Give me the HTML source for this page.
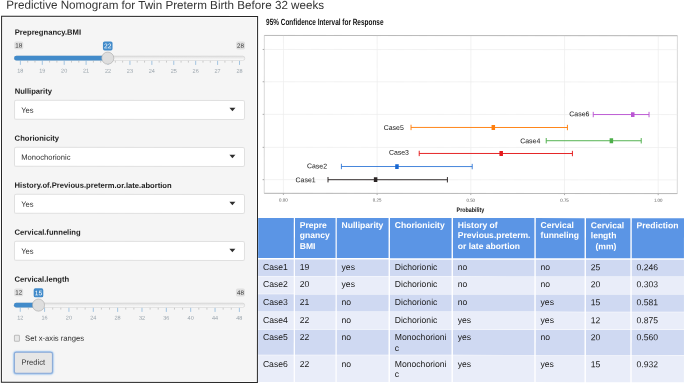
<!DOCTYPE html>
<html><head><meta charset="utf-8"><title>Predictive Nomogram for Twin Preterm Birth Before 32 weeks</title>
<style>
html,body{margin:0;padding:0;background:#fff;}
body{width:685px;height:384px;overflow:hidden;position:relative;font-family:"Liberation Sans",Arial,sans-serif;color:#333;}
#title{position:absolute;left:6.2px;top:-1.1px;font-size:11.66px;line-height:12px;white-space:nowrap;color:#333;}
#panel{position:absolute;left:1px;top:16px;width:255px;height:365px;border:1px solid #262626;background:#f5f5f5;box-shadow:inset 0 0 0 1px #fbfbfb;}
#pin{position:absolute;left:-2px;top:-17px;width:0;height:0;}
.lb{position:absolute;left:14.6px;font-size:7.64px;line-height:9px;font-weight:bold;white-space:nowrap;color:#222;}
.mm{position:absolute;width:9.4px;height:8px;border-radius:1.8px;background:#e1e1e1;font-size:6.6px;line-height:8.6px;text-align:center;color:#333;}
.val{position:absolute;width:9.9px;height:9.5px;border-radius:1.8px;background:#428bca;font-size:6.7px;line-height:9.6px;text-align:center;color:#fff;}
.trk{position:absolute;height:4.8px;border:1px solid #dcdcdc;border-radius:3px;background:linear-gradient(#e6e6e6,#fcfcfc);box-sizing:border-box;}
.bar{position:absolute;height:4.9px;border-radius:3px 0 0 3px;background:#428bca;}
.hnd{position:absolute;z-index:3;box-sizing:border-box;width:12.4px;height:12.4px;border:1px solid #b4b4b4;border-radius:50%;background:#dedede;box-shadow:0.5px 0.5px 1.5px rgba(0,0,0,0.15);}
.tk{position:absolute;width:1px;height:4.2px;background:#a9c9ea;}
.tm{position:absolute;width:0.7px;height:2.4px;background:#b4b4b4;}
.tl{position:absolute;width:20px;text-align:center;font-size:5.6px;line-height:6px;color:#9aa2a9;}
.sel{position:absolute;box-sizing:border-box;left:14px;width:231px;height:20px;border:1px solid #e0e0e0;border-radius:2.2px;background:#fff;font-size:7.58px;line-height:18px;color:#2a2a2a;}
.sel span{position:absolute;left:6.2px;top:0.8px;white-space:nowrap;}
.arr{position:absolute;left:229px;}
#cb{position:absolute;box-sizing:border-box;left:14px;top:335px;width:5.9px;height:6.6px;border:1px solid #bcbcbc;border-radius:1.4px;background:#e8e8e8;}
#cbl{position:absolute;left:25.2px;top:333.6px;font-size:7.65px;line-height:9px;white-space:nowrap;color:#2a2a2a;}
#btn{position:absolute;left:13.8px;top:352.3px;width:37.2px;height:20px;border:0.6px solid #8aa9d6;border-radius:2.4px;background:#e6e6e6;box-shadow:0 0 1.5px 0.6px rgba(102,165,233,0.75);font-size:7.58px;line-height:20px;text-align:center;color:#333;}
.th{position:absolute;top:218px;height:40.2px;color:#fff;font-weight:bold;font-size:8.55px;line-height:10.3px;padding:2.0px 0 0 4.8px;box-sizing:border-box;white-space:nowrap;overflow:hidden;}
.td{position:absolute;font-size:8.65px;line-height:10.6px;padding:2.5px 0 0 4.8px;box-sizing:border-box;white-space:nowrap;overflow:hidden;color:#1a1a1a;}
.ra{background:#cfd9f2;}
.rb{background:#e9edf9;}
#root{position:absolute;left:0;top:0;width:685px;height:384px;transform:rotate(0.03deg);transform-origin:342px 192px;}
</style></head><body><div id="root">
<div id="title">Predictive Nomogram for Twin Preterm Birth Before 32 weeks</div>
<div id="panel"><div id="pin">
<div class="lb" style="top:28.00px">Prepregnancy.BMI</div>
<svg width="258" height="40" viewBox="0 38 258 40" style="position:absolute;left:0;top:38px;font-family:'Liberation Sans',sans-serif">
<defs><linearGradient id="tg0" x1="0" y1="0" x2="0" y2="1"><stop offset="0" stop-color="#dedede"/><stop offset="1" stop-color="#ffffff"/></linearGradient></defs>
<rect x="14.2" y="41.6" width="9" height="7.9" rx="1.7" fill="#e0e0e0"/>
<rect x="236" y="41.6" width="9" height="7.9" rx="1.7" fill="#e0e0e0"/>
<text x="18.7" y="47.7" font-size="6.2" fill="#333" text-anchor="middle">18</text>
<text x="240.5" y="47.7" font-size="6.2" fill="#333" text-anchor="middle">28</text>
<line x1="20.30" x2="20.30" y1="60.6" y2="65.0" stroke="#428bca" stroke-opacity="0.62" stroke-width="0.75"/>
<text x="20.30" y="72.75" font-size="5.5" fill="#99a3ab" text-anchor="middle">18</text>
<line x1="27.61" x2="27.61" y1="60.6" y2="62.7" stroke="#999" stroke-opacity="0.8" stroke-width="0.6"/>
<line x1="34.91" x2="34.91" y1="60.6" y2="62.7" stroke="#999" stroke-opacity="0.8" stroke-width="0.6"/>
<line x1="42.22" x2="42.22" y1="60.6" y2="65.0" stroke="#428bca" stroke-opacity="0.62" stroke-width="0.75"/>
<text x="42.22" y="72.75" font-size="5.5" fill="#99a3ab" text-anchor="middle">19</text>
<line x1="49.52" x2="49.52" y1="60.6" y2="62.7" stroke="#999" stroke-opacity="0.8" stroke-width="0.6"/>
<line x1="56.83" x2="56.83" y1="60.6" y2="62.7" stroke="#999" stroke-opacity="0.8" stroke-width="0.6"/>
<line x1="64.13" x2="64.13" y1="60.6" y2="65.0" stroke="#428bca" stroke-opacity="0.62" stroke-width="0.75"/>
<text x="64.13" y="72.75" font-size="5.5" fill="#99a3ab" text-anchor="middle">20</text>
<line x1="71.44" x2="71.44" y1="60.6" y2="62.7" stroke="#999" stroke-opacity="0.8" stroke-width="0.6"/>
<line x1="78.74" x2="78.74" y1="60.6" y2="62.7" stroke="#999" stroke-opacity="0.8" stroke-width="0.6"/>
<line x1="86.04" x2="86.04" y1="60.6" y2="65.0" stroke="#428bca" stroke-opacity="0.62" stroke-width="0.75"/>
<text x="86.04" y="72.75" font-size="5.5" fill="#99a3ab" text-anchor="middle">21</text>
<line x1="93.35" x2="93.35" y1="60.6" y2="62.7" stroke="#999" stroke-opacity="0.8" stroke-width="0.6"/>
<line x1="100.65" x2="100.65" y1="60.6" y2="62.7" stroke="#999" stroke-opacity="0.8" stroke-width="0.6"/>
<line x1="107.96" x2="107.96" y1="60.6" y2="65.0" stroke="#428bca" stroke-opacity="0.62" stroke-width="0.75"/>
<text x="107.96" y="72.75" font-size="5.5" fill="#99a3ab" text-anchor="middle">22</text>
<line x1="115.26" x2="115.26" y1="60.6" y2="62.7" stroke="#999" stroke-opacity="0.8" stroke-width="0.6"/>
<line x1="122.57" x2="122.57" y1="60.6" y2="62.7" stroke="#999" stroke-opacity="0.8" stroke-width="0.6"/>
<line x1="129.88" x2="129.88" y1="60.6" y2="65.0" stroke="#428bca" stroke-opacity="0.62" stroke-width="0.75"/>
<text x="129.88" y="72.75" font-size="5.5" fill="#99a3ab" text-anchor="middle">23</text>
<line x1="137.18" x2="137.18" y1="60.6" y2="62.7" stroke="#999" stroke-opacity="0.8" stroke-width="0.6"/>
<line x1="144.49" x2="144.49" y1="60.6" y2="62.7" stroke="#999" stroke-opacity="0.8" stroke-width="0.6"/>
<line x1="151.79" x2="151.79" y1="60.6" y2="65.0" stroke="#428bca" stroke-opacity="0.62" stroke-width="0.75"/>
<text x="151.79" y="72.75" font-size="5.5" fill="#99a3ab" text-anchor="middle">24</text>
<line x1="159.09" x2="159.09" y1="60.6" y2="62.7" stroke="#999" stroke-opacity="0.8" stroke-width="0.6"/>
<line x1="166.40" x2="166.40" y1="60.6" y2="62.7" stroke="#999" stroke-opacity="0.8" stroke-width="0.6"/>
<line x1="173.70" x2="173.70" y1="60.6" y2="65.0" stroke="#428bca" stroke-opacity="0.62" stroke-width="0.75"/>
<text x="173.70" y="72.75" font-size="5.5" fill="#99a3ab" text-anchor="middle">25</text>
<line x1="181.01" x2="181.01" y1="60.6" y2="62.7" stroke="#999" stroke-opacity="0.8" stroke-width="0.6"/>
<line x1="188.31" x2="188.31" y1="60.6" y2="62.7" stroke="#999" stroke-opacity="0.8" stroke-width="0.6"/>
<line x1="195.62" x2="195.62" y1="60.6" y2="65.0" stroke="#428bca" stroke-opacity="0.62" stroke-width="0.75"/>
<text x="195.62" y="72.75" font-size="5.5" fill="#99a3ab" text-anchor="middle">26</text>
<line x1="202.93" x2="202.93" y1="60.6" y2="62.7" stroke="#999" stroke-opacity="0.8" stroke-width="0.6"/>
<line x1="210.23" x2="210.23" y1="60.6" y2="62.7" stroke="#999" stroke-opacity="0.8" stroke-width="0.6"/>
<line x1="217.53" x2="217.53" y1="60.6" y2="65.0" stroke="#428bca" stroke-opacity="0.62" stroke-width="0.75"/>
<text x="217.53" y="72.75" font-size="5.5" fill="#99a3ab" text-anchor="middle">27</text>
<line x1="224.84" x2="224.84" y1="60.6" y2="62.7" stroke="#999" stroke-opacity="0.8" stroke-width="0.6"/>
<line x1="232.14" x2="232.14" y1="60.6" y2="62.7" stroke="#999" stroke-opacity="0.8" stroke-width="0.6"/>
<line x1="239.45" x2="239.45" y1="60.6" y2="65.0" stroke="#428bca" stroke-opacity="0.62" stroke-width="0.75"/>
<text x="239.45" y="72.75" font-size="5.5" fill="#99a3ab" text-anchor="middle">28</text>
<rect x="14.25" y="56.2" width="230.5" height="4.3" rx="2.15" fill="url(#tg0)" stroke="#cccccc" stroke-width="0.55"/>
<path d="M107.67 55.9H16.4a2.4 2.4 0 0 0 0 4.8H107.67z" fill="#428bca"/>
<circle cx="107.67" cy="58.25" r="6.08" fill="#dedede" stroke="#a4a4a4" stroke-width="0.55"/>
<rect x="102.87" y="41.5" width="9.6" height="9" rx="1.7" fill="#428bca"/>
<text x="107.67" y="48.35" font-size="6.7" fill="#fff" text-anchor="middle">22</text>
</svg>
<div class="lb" style="top:86.60px">Nulliparity</div>
<div class="sel" style="top:100px"><span>Yes</span></div><svg class="arr" style="top:107px" width="8" height="6" viewBox="0 0 8 6"><polygon points="0.4,0.9 6.4,0.9 3.4,4.3" fill="#2e2e2e"/></svg>
<div class="lb" style="top:133.80px">Chorionicity</div>
<div class="sel" style="top:147px"><span>Monochorionic</span></div><svg class="arr" style="top:154px" width="8" height="6" viewBox="0 0 8 6"><polygon points="0.4,0.9 6.4,0.9 3.4,4.3" fill="#2e2e2e"/></svg>
<div class="lb" style="top:180.60px">History.of.Previous.preterm.or.late.abortion</div>
<div class="sel" style="top:194px"><span>Yes</span></div><svg class="arr" style="top:201px" width="8" height="6" viewBox="0 0 8 6"><polygon points="0.4,0.9 6.4,0.9 3.4,4.3" fill="#2e2e2e"/></svg>
<div class="lb" style="top:227.60px">Cervical.funneling</div>
<div class="sel" style="top:241px"><span>Yes</span></div><svg class="arr" style="top:248px" width="8" height="6" viewBox="0 0 8 6"><polygon points="0.4,0.9 6.4,0.9 3.4,4.3" fill="#2e2e2e"/></svg>
<div class="lb" style="top:274.70px">Cervical.length</div>
<svg width="258" height="40" viewBox="0 284.7 258 40" style="position:absolute;left:0;top:284.7px;font-family:'Liberation Sans',sans-serif">
<defs><linearGradient id="tg246" x1="0" y1="0" x2="0" y2="1"><stop offset="0" stop-color="#dedede"/><stop offset="1" stop-color="#ffffff"/></linearGradient></defs>
<rect x="14.2" y="288.3" width="9" height="7.9" rx="1.7" fill="#e0e0e0"/>
<rect x="236" y="288.3" width="9" height="7.9" rx="1.7" fill="#e0e0e0"/>
<text x="18.7" y="294.4" font-size="6.2" fill="#333" text-anchor="middle">12</text>
<text x="240.5" y="294.4" font-size="6.2" fill="#333" text-anchor="middle">48</text>
<line x1="20.30" x2="20.30" y1="307.3" y2="311.7" stroke="#428bca" stroke-opacity="0.62" stroke-width="0.75"/>
<text x="20.30" y="319.45" font-size="5.5" fill="#99a3ab" text-anchor="middle">12</text>
<line x1="28.42" x2="28.42" y1="307.3" y2="309.4" stroke="#999" stroke-opacity="0.8" stroke-width="0.6"/>
<line x1="36.53" x2="36.53" y1="307.3" y2="309.4" stroke="#999" stroke-opacity="0.8" stroke-width="0.6"/>
<line x1="44.65" x2="44.65" y1="307.3" y2="311.7" stroke="#428bca" stroke-opacity="0.62" stroke-width="0.75"/>
<text x="44.65" y="319.45" font-size="5.5" fill="#99a3ab" text-anchor="middle">16</text>
<line x1="52.77" x2="52.77" y1="307.3" y2="309.4" stroke="#999" stroke-opacity="0.8" stroke-width="0.6"/>
<line x1="60.88" x2="60.88" y1="307.3" y2="309.4" stroke="#999" stroke-opacity="0.8" stroke-width="0.6"/>
<line x1="69.00" x2="69.00" y1="307.3" y2="311.7" stroke="#428bca" stroke-opacity="0.62" stroke-width="0.75"/>
<text x="69.00" y="319.45" font-size="5.5" fill="#99a3ab" text-anchor="middle">20</text>
<line x1="77.12" x2="77.12" y1="307.3" y2="309.4" stroke="#999" stroke-opacity="0.8" stroke-width="0.6"/>
<line x1="85.23" x2="85.23" y1="307.3" y2="309.4" stroke="#999" stroke-opacity="0.8" stroke-width="0.6"/>
<line x1="93.35" x2="93.35" y1="307.3" y2="311.7" stroke="#428bca" stroke-opacity="0.62" stroke-width="0.75"/>
<text x="93.35" y="319.45" font-size="5.5" fill="#99a3ab" text-anchor="middle">24</text>
<line x1="101.47" x2="101.47" y1="307.3" y2="309.4" stroke="#999" stroke-opacity="0.8" stroke-width="0.6"/>
<line x1="109.58" x2="109.58" y1="307.3" y2="309.4" stroke="#999" stroke-opacity="0.8" stroke-width="0.6"/>
<line x1="117.70" x2="117.70" y1="307.3" y2="311.7" stroke="#428bca" stroke-opacity="0.62" stroke-width="0.75"/>
<text x="117.70" y="319.45" font-size="5.5" fill="#99a3ab" text-anchor="middle">28</text>
<line x1="125.82" x2="125.82" y1="307.3" y2="309.4" stroke="#999" stroke-opacity="0.8" stroke-width="0.6"/>
<line x1="133.93" x2="133.93" y1="307.3" y2="309.4" stroke="#999" stroke-opacity="0.8" stroke-width="0.6"/>
<line x1="142.05" x2="142.05" y1="307.3" y2="311.7" stroke="#428bca" stroke-opacity="0.62" stroke-width="0.75"/>
<text x="142.05" y="319.45" font-size="5.5" fill="#99a3ab" text-anchor="middle">32</text>
<line x1="150.17" x2="150.17" y1="307.3" y2="309.4" stroke="#999" stroke-opacity="0.8" stroke-width="0.6"/>
<line x1="158.28" x2="158.28" y1="307.3" y2="309.4" stroke="#999" stroke-opacity="0.8" stroke-width="0.6"/>
<line x1="166.40" x2="166.40" y1="307.3" y2="311.7" stroke="#428bca" stroke-opacity="0.62" stroke-width="0.75"/>
<text x="166.40" y="319.45" font-size="5.5" fill="#99a3ab" text-anchor="middle">36</text>
<line x1="174.52" x2="174.52" y1="307.3" y2="309.4" stroke="#999" stroke-opacity="0.8" stroke-width="0.6"/>
<line x1="182.63" x2="182.63" y1="307.3" y2="309.4" stroke="#999" stroke-opacity="0.8" stroke-width="0.6"/>
<line x1="190.75" x2="190.75" y1="307.3" y2="311.7" stroke="#428bca" stroke-opacity="0.62" stroke-width="0.75"/>
<text x="190.75" y="319.45" font-size="5.5" fill="#99a3ab" text-anchor="middle">40</text>
<line x1="198.87" x2="198.87" y1="307.3" y2="309.4" stroke="#999" stroke-opacity="0.8" stroke-width="0.6"/>
<line x1="206.98" x2="206.98" y1="307.3" y2="309.4" stroke="#999" stroke-opacity="0.8" stroke-width="0.6"/>
<line x1="215.10" x2="215.10" y1="307.3" y2="311.7" stroke="#428bca" stroke-opacity="0.62" stroke-width="0.75"/>
<text x="215.10" y="319.45" font-size="5.5" fill="#99a3ab" text-anchor="middle">44</text>
<line x1="223.22" x2="223.22" y1="307.3" y2="309.4" stroke="#999" stroke-opacity="0.8" stroke-width="0.6"/>
<line x1="231.33" x2="231.33" y1="307.3" y2="309.4" stroke="#999" stroke-opacity="0.8" stroke-width="0.6"/>
<line x1="239.45" x2="239.45" y1="307.3" y2="311.7" stroke="#428bca" stroke-opacity="0.62" stroke-width="0.75"/>
<text x="239.45" y="319.45" font-size="5.5" fill="#99a3ab" text-anchor="middle">48</text>
<rect x="14.25" y="302.9" width="230.5" height="4.3" rx="2.15" fill="url(#tg246)" stroke="#cccccc" stroke-width="0.55"/>
<path d="M38.541666666666664 302.59999999999997H16.4a2.4 2.4 0 0 0 0 4.8H38.541666666666664z" fill="#428bca"/>
<circle cx="38.54" cy="304.95" r="6.08" fill="#dedede" stroke="#a4a4a4" stroke-width="0.55"/>
<rect x="33.74" y="288.2" width="9.6" height="9" rx="1.7" fill="#428bca"/>
<text x="38.54" y="295.05" font-size="6.7" fill="#fff" text-anchor="middle">15</text>
</svg>
<div id="cb"></div><div id="cbl">Set x-axis ranges</div>
<div id="btn">Predict</div>
</div></div>
<svg width="427" height="218" viewBox="258 0 427 218" style="position:absolute;left:258px;top:0;font-family:'Liberation Sans',sans-serif">
<rect x="264.25" y="35.5" width="413.05" height="157.9" fill="#fff" stroke="#c9c9c9" stroke-width="0.7"/>
<line x1="264.25" x2="677.3" y1="49.5" y2="49.5" stroke="#ececec" stroke-width="0.7"/>
<line x1="262.6" x2="264.2" y1="49.5" y2="49.5" stroke="#777" stroke-width="0.6"/>
<line x1="264.25" x2="677.3" y1="81.8" y2="81.8" stroke="#ececec" stroke-width="0.7"/>
<line x1="262.6" x2="264.2" y1="81.8" y2="81.8" stroke="#777" stroke-width="0.6"/>
<line x1="264.25" x2="677.3" y1="114.4" y2="114.4" stroke="#ececec" stroke-width="0.7"/>
<line x1="262.6" x2="264.2" y1="114.4" y2="114.4" stroke="#777" stroke-width="0.6"/>
<line x1="264.25" x2="677.3" y1="147.4" y2="147.4" stroke="#ececec" stroke-width="0.7"/>
<line x1="262.6" x2="264.2" y1="147.4" y2="147.4" stroke="#777" stroke-width="0.6"/>
<line x1="264.25" x2="677.3" y1="179.7" y2="179.7" stroke="#ececec" stroke-width="0.7"/>
<line x1="262.6" x2="264.2" y1="179.7" y2="179.7" stroke="#777" stroke-width="0.6"/>
<line x1="283.40" x2="283.40" y1="35.5" y2="193.4" stroke="#ececec" stroke-width="0.7"/>
<line x1="283.40" x2="283.40" y1="193.4" y2="195" stroke="#777" stroke-width="0.6"/>
<text x="283.40" y="201.6" font-size="4.4" fill="#555" text-anchor="middle">0.00</text>
<line x1="377.10" x2="377.10" y1="35.5" y2="193.4" stroke="#ececec" stroke-width="0.7"/>
<line x1="377.10" x2="377.10" y1="193.4" y2="195" stroke="#777" stroke-width="0.6"/>
<text x="377.10" y="201.6" font-size="4.4" fill="#555" text-anchor="middle">0.25</text>
<line x1="470.80" x2="470.80" y1="35.5" y2="193.4" stroke="#ececec" stroke-width="0.7"/>
<line x1="470.80" x2="470.80" y1="193.4" y2="195" stroke="#777" stroke-width="0.6"/>
<text x="470.80" y="201.6" font-size="4.4" fill="#555" text-anchor="middle">0.50</text>
<line x1="564.50" x2="564.50" y1="35.5" y2="193.4" stroke="#ececec" stroke-width="0.7"/>
<line x1="564.50" x2="564.50" y1="193.4" y2="195" stroke="#777" stroke-width="0.6"/>
<text x="564.50" y="201.6" font-size="4.4" fill="#555" text-anchor="middle">0.75</text>
<line x1="658.20" x2="658.20" y1="35.5" y2="193.4" stroke="#ececec" stroke-width="0.7"/>
<line x1="658.20" x2="658.20" y1="193.4" y2="195" stroke="#777" stroke-width="0.6"/>
<text x="658.20" y="201.6" font-size="4.4" fill="#555" text-anchor="middle">1.00</text>
<path d="M677.3 35.5H264.25M264.25 193.4H677.3" fill="none" stroke="#b0b0b0" stroke-width="0.75"/>
<path d="M328.0 179.7H447.4M328.0 177.0V182.39999999999998M447.4 177.0V182.39999999999998" stroke="#2a2424" stroke-width="0.95" fill="none"/>
<rect x="373.85" y="177.29999999999998" width="3.5" height="4.8" fill="#2a2424"/>
<text x="305.60" y="182.20" font-size="6.95" fill="#151515" text-anchor="middle">Case1</text>
<path d="M341.4 166.5H472.2M341.4 163.8V169.2M472.2 163.8V169.2" stroke="#1767d2" stroke-width="0.8" fill="none"/>
<rect x="395.21" y="164.1" width="3.5" height="4.8" fill="#1767d2"/>
<text x="317.00" y="168.40" font-size="6.95" fill="#151515" text-anchor="middle">Case2</text>
<path d="M419.2 153.4H572.4M419.2 150.70000000000002V156.1M572.4 150.70000000000002V156.1" stroke="#e41a1c" stroke-width="0.95" fill="none"/>
<rect x="499.41" y="151.0" width="3.5" height="4.8" fill="#e41a1c"/>
<text x="398.90" y="154.70" font-size="6.95" fill="#151515" text-anchor="middle">Case3</text>
<path d="M546.2 140.6H641.2M546.2 137.9V143.29999999999998M641.2 137.9V143.29999999999998" stroke="#4daf4a" stroke-width="0.95" fill="none"/>
<rect x="609.60" y="138.2" width="3.5" height="4.8" fill="#4daf4a"/>
<text x="530.20" y="143.20" font-size="6.95" fill="#151515" text-anchor="middle">Case4</text>
<path d="M411.0 127.4H567.4M411.0 124.7V130.1M567.4 124.7V130.1" stroke="#ff7f0e" stroke-width="0.95" fill="none"/>
<rect x="491.54" y="125.0" width="3.5" height="4.8" fill="#ff7f0e"/>
<text x="393.70" y="129.90" font-size="6.95" fill="#151515" text-anchor="middle">Case5</text>
<path d="M593.2 114.4H649.0M593.2 111.7V117.10000000000001M649.0 111.7V117.10000000000001" stroke="#ba55d3" stroke-width="0.95" fill="none"/>
<rect x="630.96" y="112.0" width="3.5" height="4.8" fill="#ba55d3"/>
<text x="579.30" y="116.10" font-size="6.95" fill="#151515" text-anchor="middle">Case6</text>
<text x="266" y="24.6" font-size="9" font-weight="bold" fill="#111" textLength="117.4" lengthAdjust="spacingAndGlyphs">95% Confidence Interval for Response</text>
<text x="456.6" y="212.1" font-size="6.5" font-weight="bold" fill="#111" textLength="27.6" lengthAdjust="spacingAndGlyphs">Probability</text>
</svg>
<svg width="685" height="384" viewBox="0 0 685 384" style="position:absolute;left:0;top:0">
<rect x="258.2" y="218" width="35.60" height="40.1" fill="#5b95e5"/>
<rect x="295.0" y="218" width="40.60" height="40.1" fill="#5b95e5"/>
<rect x="336.8" y="218" width="51.80" height="40.1" fill="#5b95e5"/>
<rect x="390.0" y="218" width="61.60" height="40.1" fill="#5b95e5"/>
<rect x="453.0" y="218" width="81.40" height="40.1" fill="#5b95e5"/>
<rect x="535.8" y="218" width="48.80" height="40.1" fill="#5b95e5"/>
<rect x="586.0" y="218" width="44.40" height="40.1" fill="#5b95e5"/>
<rect x="631.8" y="218" width="52.20" height="40.1" fill="#5b95e5"/>
<rect x="258.2" y="259.6" width="35.60" height="16.70" fill="#cfd9f2"/>
<rect x="295.0" y="259.6" width="40.60" height="16.70" fill="#cfd9f2"/>
<rect x="336.8" y="259.6" width="51.80" height="16.70" fill="#cfd9f2"/>
<rect x="390.0" y="259.6" width="61.60" height="16.70" fill="#cfd9f2"/>
<rect x="453.0" y="259.6" width="81.40" height="16.70" fill="#cfd9f2"/>
<rect x="535.8" y="259.6" width="48.80" height="16.70" fill="#cfd9f2"/>
<rect x="586.0" y="259.6" width="44.40" height="16.70" fill="#cfd9f2"/>
<rect x="631.8" y="259.6" width="52.20" height="16.70" fill="#cfd9f2"/>
<rect x="258.2" y="276.8" width="35.60" height="17.10" fill="#e9edf9"/>
<rect x="295.0" y="276.8" width="40.60" height="17.10" fill="#e9edf9"/>
<rect x="336.8" y="276.8" width="51.80" height="17.10" fill="#e9edf9"/>
<rect x="390.0" y="276.8" width="61.60" height="17.10" fill="#e9edf9"/>
<rect x="453.0" y="276.8" width="81.40" height="17.10" fill="#e9edf9"/>
<rect x="535.8" y="276.8" width="48.80" height="17.10" fill="#e9edf9"/>
<rect x="586.0" y="276.8" width="44.40" height="17.10" fill="#e9edf9"/>
<rect x="631.8" y="276.8" width="52.20" height="17.10" fill="#e9edf9"/>
<rect x="258.2" y="294.4" width="35.60" height="17.10" fill="#cfd9f2"/>
<rect x="295.0" y="294.4" width="40.60" height="17.10" fill="#cfd9f2"/>
<rect x="336.8" y="294.4" width="51.80" height="17.10" fill="#cfd9f2"/>
<rect x="390.0" y="294.4" width="61.60" height="17.10" fill="#cfd9f2"/>
<rect x="453.0" y="294.4" width="81.40" height="17.10" fill="#cfd9f2"/>
<rect x="535.8" y="294.4" width="48.80" height="17.10" fill="#cfd9f2"/>
<rect x="586.0" y="294.4" width="44.40" height="17.10" fill="#cfd9f2"/>
<rect x="631.8" y="294.4" width="52.20" height="17.10" fill="#cfd9f2"/>
<rect x="258.2" y="312.0" width="35.60" height="17.30" fill="#e9edf9"/>
<rect x="295.0" y="312.0" width="40.60" height="17.30" fill="#e9edf9"/>
<rect x="336.8" y="312.0" width="51.80" height="17.30" fill="#e9edf9"/>
<rect x="390.0" y="312.0" width="61.60" height="17.30" fill="#e9edf9"/>
<rect x="453.0" y="312.0" width="81.40" height="17.30" fill="#e9edf9"/>
<rect x="535.8" y="312.0" width="48.80" height="17.30" fill="#e9edf9"/>
<rect x="586.0" y="312.0" width="44.40" height="17.30" fill="#e9edf9"/>
<rect x="631.8" y="312.0" width="52.20" height="17.30" fill="#e9edf9"/>
<rect x="258.2" y="329.8" width="35.60" height="25.00" fill="#cfd9f2"/>
<rect x="295.0" y="329.8" width="40.60" height="25.00" fill="#cfd9f2"/>
<rect x="336.8" y="329.8" width="51.80" height="25.00" fill="#cfd9f2"/>
<rect x="390.0" y="329.8" width="61.60" height="25.00" fill="#cfd9f2"/>
<rect x="453.0" y="329.8" width="81.40" height="25.00" fill="#cfd9f2"/>
<rect x="535.8" y="329.8" width="48.80" height="25.00" fill="#cfd9f2"/>
<rect x="586.0" y="329.8" width="44.40" height="25.00" fill="#cfd9f2"/>
<rect x="631.8" y="329.8" width="52.20" height="25.00" fill="#cfd9f2"/>
<rect x="258.2" y="355.2" width="35.60" height="26.80" fill="#e9edf9"/>
<rect x="295.0" y="355.2" width="40.60" height="26.80" fill="#e9edf9"/>
<rect x="336.8" y="355.2" width="51.80" height="26.80" fill="#e9edf9"/>
<rect x="390.0" y="355.2" width="61.60" height="26.80" fill="#e9edf9"/>
<rect x="453.0" y="355.2" width="81.40" height="26.80" fill="#e9edf9"/>
<rect x="535.8" y="355.2" width="48.80" height="26.80" fill="#e9edf9"/>
<rect x="586.0" y="355.2" width="44.40" height="26.80" fill="#e9edf9"/>
<rect x="631.8" y="355.2" width="52.20" height="26.80" fill="#e9edf9"/>
</svg>
<div class="th" style="left:258.2px;width:35.6px"></div>
<div class="th" style="left:295.0px;width:40.6px">Prepre<br>gnancy<br>BMI</div>
<div class="th" style="left:336.8px;width:51.8px">Nulliparity</div>
<div class="th" style="left:390.0px;width:61.6px">Chorionicity</div>
<div class="th" style="left:453.0px;width:81.4px">History of<br>Previous.preterm.<br>or late abortion</div>
<div class="th" style="left:535.8px;width:48.8px">Cervical<br>funneling</div>
<div class="th" style="left:586.0px;width:44.4px">Cervical<br>length<br>&nbsp;&nbsp;(mm)</div>
<div class="th" style="left:631.8px;width:52.2px">Prediction</div>
<div class="td" style="left:258.2px;width:35.6px;top:259.6px;height:16.7px">Case1</div>
<div class="td" style="left:295.0px;width:40.6px;top:259.6px;height:16.7px">19</div>
<div class="td" style="left:336.8px;width:51.8px;top:259.6px;height:16.7px">yes</div>
<div class="td" style="left:390.0px;width:61.6px;top:259.6px;height:16.7px">Dichorionic</div>
<div class="td" style="left:453.0px;width:81.4px;top:259.6px;height:16.7px">no</div>
<div class="td" style="left:535.8px;width:48.8px;top:259.6px;height:16.7px">no</div>
<div class="td" style="left:586.0px;width:44.4px;top:259.6px;height:16.7px">25</div>
<div class="td" style="left:631.8px;width:52.2px;top:259.6px;height:16.7px">0.246</div>
<div class="td" style="left:258.2px;width:35.6px;top:276.8px;height:17.1px">Case2</div>
<div class="td" style="left:295.0px;width:40.6px;top:276.8px;height:17.1px">20</div>
<div class="td" style="left:336.8px;width:51.8px;top:276.8px;height:17.1px">yes</div>
<div class="td" style="left:390.0px;width:61.6px;top:276.8px;height:17.1px">Dichorionic</div>
<div class="td" style="left:453.0px;width:81.4px;top:276.8px;height:17.1px">no</div>
<div class="td" style="left:535.8px;width:48.8px;top:276.8px;height:17.1px">no</div>
<div class="td" style="left:586.0px;width:44.4px;top:276.8px;height:17.1px">20</div>
<div class="td" style="left:631.8px;width:52.2px;top:276.8px;height:17.1px">0.303</div>
<div class="td" style="left:258.2px;width:35.6px;top:294.4px;height:17.1px">Case3</div>
<div class="td" style="left:295.0px;width:40.6px;top:294.4px;height:17.1px">21</div>
<div class="td" style="left:336.8px;width:51.8px;top:294.4px;height:17.1px">no</div>
<div class="td" style="left:390.0px;width:61.6px;top:294.4px;height:17.1px">Dichorionic</div>
<div class="td" style="left:453.0px;width:81.4px;top:294.4px;height:17.1px">no</div>
<div class="td" style="left:535.8px;width:48.8px;top:294.4px;height:17.1px">yes</div>
<div class="td" style="left:586.0px;width:44.4px;top:294.4px;height:17.1px">15</div>
<div class="td" style="left:631.8px;width:52.2px;top:294.4px;height:17.1px">0.581</div>
<div class="td" style="left:258.2px;width:35.6px;top:312.0px;height:17.3px">Case4</div>
<div class="td" style="left:295.0px;width:40.6px;top:312.0px;height:17.3px">22</div>
<div class="td" style="left:336.8px;width:51.8px;top:312.0px;height:17.3px">no</div>
<div class="td" style="left:390.0px;width:61.6px;top:312.0px;height:17.3px">Dichorionic</div>
<div class="td" style="left:453.0px;width:81.4px;top:312.0px;height:17.3px">yes</div>
<div class="td" style="left:535.8px;width:48.8px;top:312.0px;height:17.3px">yes</div>
<div class="td" style="left:586.0px;width:44.4px;top:312.0px;height:17.3px">12</div>
<div class="td" style="left:631.8px;width:52.2px;top:312.0px;height:17.3px">0.875</div>
<div class="td" style="left:258.2px;width:35.6px;top:329.8px;height:25.0px">Case5</div>
<div class="td" style="left:295.0px;width:40.6px;top:329.8px;height:25.0px">22</div>
<div class="td" style="left:336.8px;width:51.8px;top:329.8px;height:25.0px">no</div>
<div class="td" style="left:390.0px;width:61.6px;top:329.8px;height:25.0px">Monochorioni<br>c</div>
<div class="td" style="left:453.0px;width:81.4px;top:329.8px;height:25.0px">yes</div>
<div class="td" style="left:535.8px;width:48.8px;top:329.8px;height:25.0px">no</div>
<div class="td" style="left:586.0px;width:44.4px;top:329.8px;height:25.0px">20</div>
<div class="td" style="left:631.8px;width:52.2px;top:329.8px;height:25.0px">0.560</div>
<div class="td" style="left:258.2px;width:35.6px;top:355.2px;height:26.8px;padding-top:3.5px">Case6</div>
<div class="td" style="left:295.0px;width:40.6px;top:355.2px;height:26.8px;padding-top:3.5px">22</div>
<div class="td" style="left:336.8px;width:51.8px;top:355.2px;height:26.8px;padding-top:3.5px">no</div>
<div class="td" style="left:390.0px;width:61.6px;top:355.2px;height:26.8px;padding-top:3.5px">Monochorioni<br>c</div>
<div class="td" style="left:453.0px;width:81.4px;top:355.2px;height:26.8px;padding-top:3.5px">yes</div>
<div class="td" style="left:535.8px;width:48.8px;top:355.2px;height:26.8px;padding-top:3.5px">yes</div>
<div class="td" style="left:586.0px;width:44.4px;top:355.2px;height:26.8px;padding-top:3.5px">15</div>
<div class="td" style="left:631.8px;width:52.2px;top:355.2px;height:26.8px;padding-top:3.5px">0.932</div>
</div></body></html>
